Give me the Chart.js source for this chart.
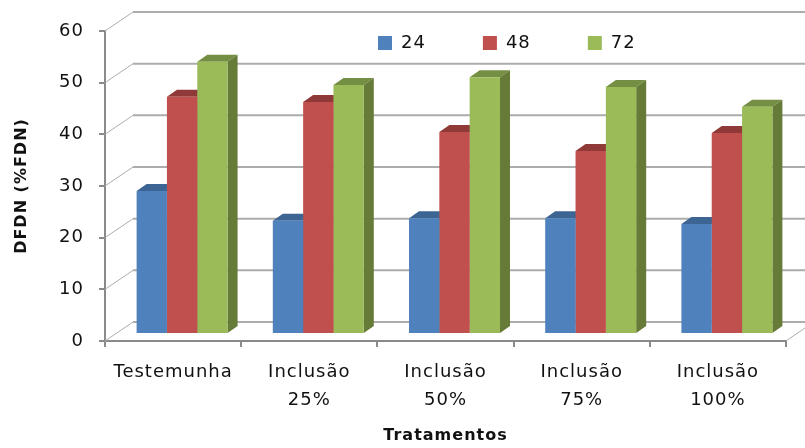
<!DOCTYPE html>
<html>
<head>
<meta charset="utf-8">
<script src="https://cdn.jsdelivr.net/npm/chart.js@4"></script>
<style>
html, body { margin: 0; padding: 0; background: #fff; }
#wrap { width: 805px; height: 448px; }
</style>
</head>
<body>
<div id="wrap"><canvas id="myChart"></canvas></div>
<script>
var categorias = ['Testemunha', ['Inclusão', '25%'], ['Inclusão', '50%'], ['Inclusão', '75%'], ['Inclusão', '100%']]
var series_nomes = ['24', '48', '72']
var horas_24 = [27.7, 21.9, 22.4, 22.4, 21.3]
var horas_48 = [45.9, 44.9, 39.1, 35.4, 38.9]
var horas_72 = [52.7, 48.2, 49.7, 47.8, 44.0]

var cor_frente = ['#4f81bd', '#c0504d', '#9bbb59']
var cor_topo = ['#3d6594', '#8f3a38', '#748f43']
var cor_lado = ['#375a84', '#7f3331', '#657b37']

var fonte = 'DejaVu Sans'

// depth of the back wall and of the bars, measured from the front plane
var parede = { dx: 28, dy: -19 }
var barra = { x: 9, y: -7, dx: 10, dy: -7 }

// walls and floor of the 3D box behind the bars
function desenha_paredes(chart) {
    var ctx = chart.ctx, y_scale = chart.scales.y, area = chart.chartArea
    ctx.save()
    y_scale.ticks.forEach(function (tick) {
        var y = y_scale.getPixelForValue(tick.value)
        ctx.beginPath()
        ctx.moveTo(area.left, y)
        ctx.lineTo(area.left + parede.dx, y + parede.dy)
        ctx.strokeStyle = '#adadad'
        ctx.lineWidth = 1
        ctx.stroke()
        ctx.beginPath()
        ctx.moveTo(area.left + parede.dx, y + parede.dy)
        ctx.lineTo(chart.width, y + parede.dy)
        ctx.strokeStyle = '#acacac'
        ctx.lineWidth = 2
        ctx.stroke()
    })
    ctx.beginPath()
    ctx.moveTo(area.right, area.bottom)
    ctx.lineTo(chart.width, area.bottom - 13)
    ctx.strokeStyle = '#adadad'
    ctx.lineWidth = 1
    ctx.stroke()
    ctx.restore()
}

// top and side faces; the fronts are drawn afterwards by the bar controller
function desenha_faces(chart) {
    var ctx = chart.ctx
    chart.data.datasets.forEach(function (ds, i) {
        chart.getDatasetMeta(i).data.forEach(function (bar) {
            var l = bar.x - bar.width / 2, r = bar.x + bar.width / 2
            ctx.fillStyle = cor_topo[i]
            ctx.beginPath()
            ctx.moveTo(l, bar.y)
            ctx.lineTo(l + barra.dx, bar.y + barra.dy)
            ctx.lineTo(r + barra.dx, bar.y + barra.dy)
            ctx.lineTo(r, bar.y)
            ctx.closePath()
            ctx.fill()
            ctx.fillStyle = cor_lado[i]
            ctx.beginPath()
            ctx.moveTo(r, bar.y)
            ctx.lineTo(r + barra.dx, bar.y + barra.dy)
            ctx.lineTo(r + barra.dx, bar.base + barra.dy)
            ctx.lineTo(r, bar.base)
            ctx.closePath()
            ctx.fill()
        })
    })
}

var caixa_3d = {
    id: 'caixa_3d',
    afterLayout: function (chart) {
        // legend sits inside the plot, over the back wall
        var legenda = chart.legend, p = legenda.options.labels.padding
        legenda.left = 378 - p
        legenda.right = 805
        legenda.top = 34 - p
        legenda.bottom = 60
        legenda.adjustHitBoxes()
    },
    beforeDraw: function (chart) {
        chart.ctx.letterSpacing = '1px'
    },
    beforeDatasetsDraw: function (chart) {
        desenha_paredes(chart)
        chart.ctx.save()
        chart.ctx.translate(barra.x, barra.y)
        desenha_faces(chart)
    },
    afterDatasetsDraw: function (chart) {
        chart.ctx.restore()
    }
}

var ctx = document.getElementById('myChart').getContext('2d');
var myChart = new Chart(ctx, {
    type: 'bar',
    data: {
        labels: categorias,
        datasets: [{
            label: series_nomes[0],
            data: horas_24,
            backgroundColor: cor_frente[0]
        }, {
            label: series_nomes[1],
            data: horas_48,
            backgroundColor: cor_frente[1]
        }, {
            label: series_nomes[2],
            data: horas_72,
            backgroundColor: cor_frente[2]
        }]
    },
    plugins: [caixa_3d],
    options: {
        responsive: true,
        maintainAspectRatio: false,
        animation: false,
        layout: { padding: { top: 11, right: 19, left: 0, bottom: 0 } },
        datasets: { bar: { categoryPercentage: 0.668, barPercentage: 1, clip: false } },
        plugins: {
            tooltip: { enabled: false },
            legend: {
                position: 'top',
                align: 'start',
                maxHeight: 20,
                labels: {
                    boxWidth: 14,
                    boxHeight: 14,
                    padding: 57,
                    color: '#111',
                    font: { family: fonte, size: 18 }
                }
            }
        },
        scales: {
            x: {
                afterFit: function (s) { s.height = 107 },
                grid: { offset: true, drawOnChartArea: false, color: '#8a8a8a', lineWidth: 2, tickLength: 6 },
                border: { color: '#8a8a8a', width: 2 },
                ticks: {
                    padding: 11,
                    maxRotation: 0,
                    color: '#111',
                    font: { family: fonte, size: 18, lineHeight: 1.55 }
                },
                title: {
                    display: true,
                    text: 'Tratamentos',
                    color: '#111',
                    font: { family: fonte, size: 16, weight: 'bold' },
                    padding: { top: 0, bottom: 3 }
                }
            },
            y: {
                min: 0,
                max: 60,
                afterFit: function (s) { s.width = 105 },
                grid: { drawOnChartArea: false, color: '#8a8a8a', lineWidth: 2, tickLength: 6 },
                border: { color: '#8a8a8a', width: 2 },
                ticks: {
                    stepSize: 10,
                    padding: 15,
                    color: '#111',
                    font: { family: fonte, size: 18 }
                },
                title: {
                    display: true,
                    text: 'DFDN (%FDN)',
                    color: '#111',
                    font: { family: fonte, size: 16, weight: 'bold' },
                    padding: { top: 12, bottom: 0 }
                }
            }
        }
    }
});
</script>
</body>
</html>
